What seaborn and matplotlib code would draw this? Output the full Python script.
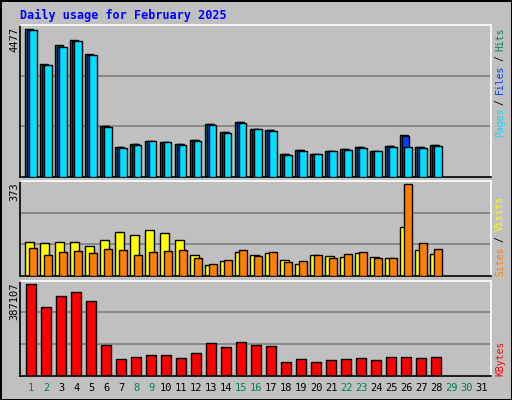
import matplotlib
matplotlib.use("Agg")
import matplotlib.pyplot as plt
import seaborn as sns
import pandas as pd
import numpy as np

days = list(range(1, 29))
all_days = list(range(1, 32))
weekend = [1, 2, 8, 9, 15, 16, 22, 23, 29, 30]
hits = [4477, 3413, 3991, 4143, 3717, 1560, 922, 1013, 1104, 1074, 1013, 1134, 1621, 1378,
        1681, 1469, 1438, 709, 831, 709, 800, 861, 922, 800, 952, 1286, 922, 982]
files = [4460, 3395, 3950, 4125, 3700, 1545, 905, 995, 1104, 1074, 995, 1115, 1605, 1360,
         1665, 1469, 1420, 690, 815, 709, 800, 845, 905, 800, 935, 1256, 905, 965]
pages = [4447, 3383, 3930, 4113, 3687, 1530, 891, 982, 1104, 1074, 982, 1104, 1590, 1347,
         1651, 1469, 1408, 679, 800, 709, 800, 830, 891, 800, 922, 922, 891, 952]
visits = [138, 134, 138, 138, 122, 146, 178, 166, 186, 174, 146, 85, 45, 61,
          97, 85, 93, 65, 49, 85, 81, 77, 93, 77, 73, 199, 105, 89]
sites = [114, 85, 97, 101, 93, 110, 105, 85, 97, 101, 105, 73, 49, 65,
         105, 81, 97, 57, 61, 85, 73, 89, 97, 73, 73, 373, 134, 110]
kbytes = [387107, 289623, 336245, 353199, 315052, 128544, 69204, 77681, 86158, 86158,
          73443, 94635, 137021, 120067, 141259, 128544, 124306, 56489, 69204, 56489,
          64966, 69204, 73443, 64966, 77681, 77681, 73443, 77681]

BG = "#C0C0C0"
sns.set_style("white")
plt.rcParams["font.family"] = ["DejaVu Sans Mono", "DejaVu Sans"]

fig = plt.figure(figsize=(5.12, 4.0), dpi=100)
fig.patch.set_facecolor(BG)
fig.patch.set_edgecolor("black")
fig.patch.set_linewidth(2)

L, W = 20 / 512, 471 / 512
ax1 = fig.add_axes([L, 1 - 177 / 400, W, 152 / 400])
ax2 = fig.add_axes([L, 1 - 276.3 / 400, W, 95.6 / 400])
ax3 = fig.add_axes([L, 1 - 375.7 / 400, W, 95 / 400])

def style(ax, ymax):
    ax.set_facecolor(BG)
    ax.set_xlim(0.25, 31.65)
    ax.set_ylim(0, ymax)
    for f in (1 / 3, 2 / 3):
        ax.axhline(ymax * f, color="#808080", lw=1.2, zorder=0)
    ax.set_xticks([]); ax.set_yticks([])
    ax.spines["left"].set_color("black")
    ax.spines["top"].set_color("white")
    ax.spines["right"].set_color("white")
    ax.spines["bottom"].set_color("black")
    for s in ax.spines.values():
        s.set_linewidth(1.2)

x = np.array(days, dtype=float)
style(ax1, max(hits) * 1.03)
ax1.bar(x - 0.15, hits, width=0.5, color="#00805C", edgecolor="black", lw=1, zorder=2)
ax1.bar(x - 0.03, files, width=0.46, color="#0040FF", edgecolor="black", lw=1, zorder=3)
ax1.bar(x + 0.09, pages, width=0.52, color="#00E0FF", edgecolor="black", lw=1, zorder=4)

style(ax2, max(sites) * 1.04)
ax2.bar(x - 0.12, visits, width=0.55, color="#FFFF00", edgecolor="black", lw=1, zorder=2)
ax2.bar(x + 0.12, sites, width=0.48, color="#FF8000", edgecolor="black", lw=1, zorder=3)

style(ax3, max(kbytes) * 1.04)
df = pd.DataFrame({"day": days, "kb": kbytes})
sns.barplot(data=df, x="day", y="kb", native_scale=True, width=0.66, color="#FF0000",
            saturation=1, edgecolor="black", linewidth=1, ax=ax3, zorder=2)
ax3.set_xlim(0.25, 31.65); ax3.set_xlabel(""); ax3.set_ylabel("")
ax3.set_xticks([]); ax3.set_yticks([])

for d in all_days:
    ax3.text(d, -0.13, str(d), transform=ax3.get_xaxis_transform(), ha="center", va="center",
             fontsize=7.5, color="#00805C" if d in weekend else "black")

fig.text(20 / 512, 1 - 15 / 400, "Daily usage for February 2025", color="#0000FF",
         fontsize=8.5, fontweight="bold", ha="left", va="center")

for ax_top, val in ((27, max(hits)), (182, max(sites)), (282, max(kbytes))):
    fig.text(14 / 512, 1 - ax_top / 400, str(val), rotation=90, ha="center", va="top",
             fontsize=7.5, color="black")

def vlabel(bottom_px, parts, cw=5.4):
    pos = bottom_px
    for txt, col in parts:
        fig.text(500 / 512, 1 - pos / 400, txt, rotation=90, ha="center", va="bottom",
                 fontsize=7, color=col)
        pos -= cw * (len(txt) + 1)

vlabel(137, [("Pages", "#00E0FF"), ("/", "black"), ("Files", "#0040FF"), ("/", "black"),
             ("Hits", "#00805C")])
vlabel(276, [("Sites", "#FF8000"), ("/", "black"), ("Visits", "#FFFF00")], cw=5.6)
vlabel(376, [("KBytes", "#FF0000")], cw=5.9)

fig.savefig("out.png", dpi=100, facecolor=BG, edgecolor="black")
